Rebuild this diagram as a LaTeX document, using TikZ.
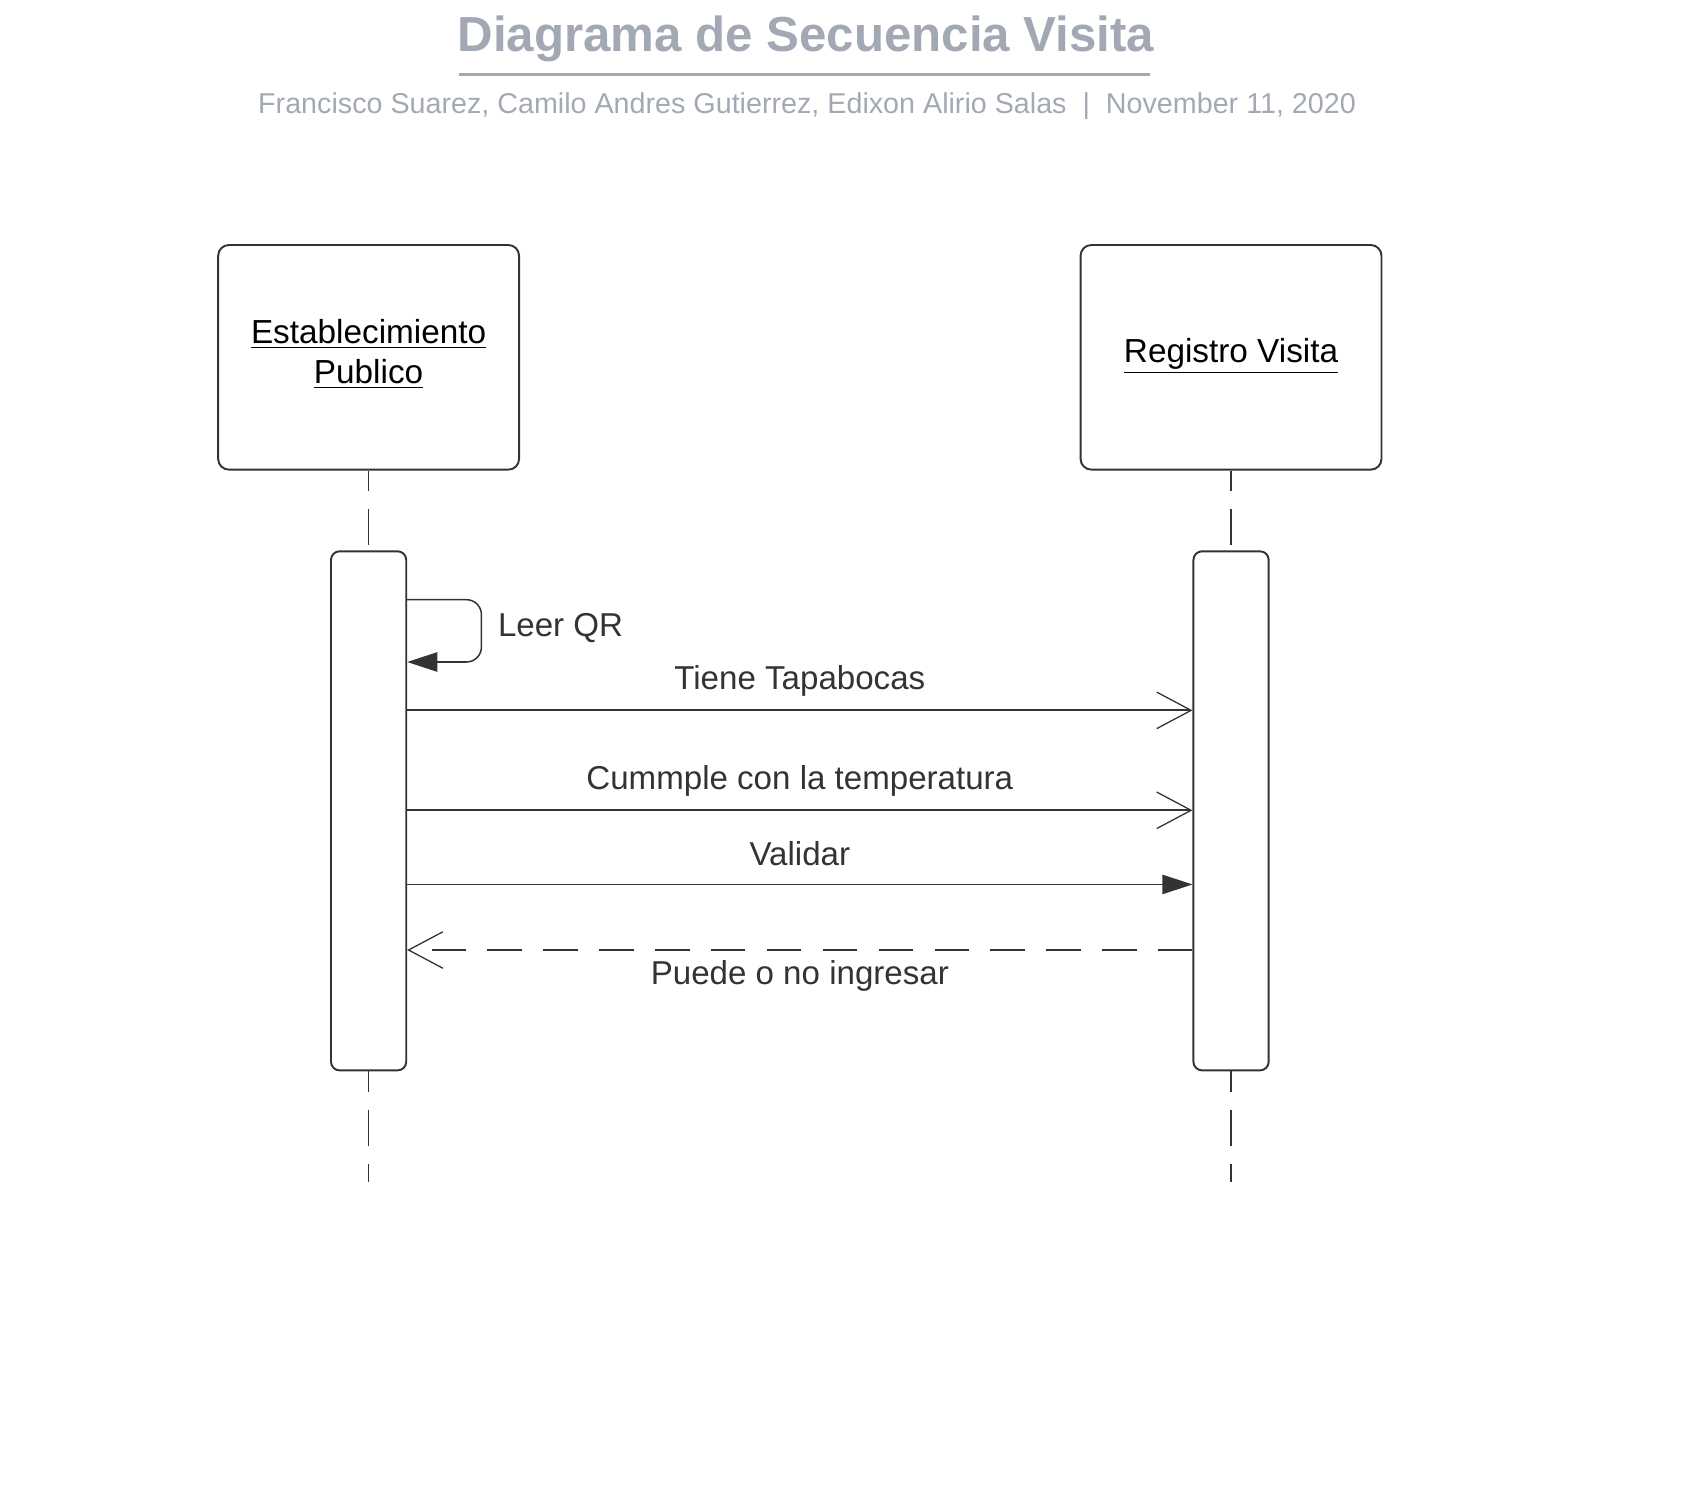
\documentclass[tikz,border=0pt]{standalone}
\usepackage{fontspec}
\setmainfont{Liberation Sans}
\usetikzlibrary{arrows.meta}
\definecolor{titlegrey}{HTML}{A3A9B4}
\definecolor{ink}{HTML}{333333}
\begin{document}
\begin{tikzpicture}[x=0.5pt,y=-0.5pt,
  headbox/.style={draw=ink,line width=0.9pt,rounded corners=5pt,minimum width=140pt,minimum height=104.5pt,inner sep=0pt},
  headtext/.style={text=black,font=\fontsize{15.5}{18.5}\selectfont,align=center,inner sep=0pt},
  actbox/.style={draw=ink,line width=0.9pt,rounded corners=4pt,minimum width=35pt,minimum height=241.5pt,inner sep=0pt,fill=white},
  lifeline/.style={draw=ink,line width=0.7pt,dash pattern=on 16.5pt off 8.5pt,dash phase=7pt},
  msg/.style={draw=ink,line width=0.9pt},
  msgthin/.style={draw=ink,line width=0.6pt},
  msglabel/.style={text=ink,font=\fontsize{15.4}{18}\selectfont,inner sep=0pt},
  openhead/.style={-{Straight Barb[length=16pt,width=17pt,line width=0.6pt]}},
  filledhead/.style={-{Triangle[length=14pt,width=9pt]}}
]
\useasboundingbox (0,0) rectangle (1567,1396);
% title
\node[text=titlegrey,font=\fontsize{22.9}{27}\selectfont\bfseries,inner sep=0pt] (title) at (750,36.5) {Diagrama de Secuencia Visita};
\coordinate (ulA) at (427,69);
\coordinate (ulB) at (1070,69);
\draw[titlegrey,line width=1.5pt] (ulA) -- (ulB);
\node[text=titlegrey,font=\fontsize{13.35}{16}\selectfont,inner sep=0pt] (subtitle) at (751,99) {Francisco Suarez, Camilo Andres Gutierrez, Edixon Alirio Salas \ | \ November 11, 2020};
% heads
\node[headbox] (ep) at (343,332.5) {};
\node[headbox] (rv) at (1145.5,332.5) {};
\node[headtext] (eptext) at (343,329.5) {\underline{Establecimiento}\\\underline{Publico}};
\node[headtext] (rvtext) at (1145.5,331.5) {\underline{Registro Visita}};
% activations
\node[actbox] (act1) at (343,754.5) {};
\node[actbox] (act2) at (1145.5,754.5) {};
% lifelines
\coordinate (ependB) at (343,1100);
\coordinate (rvendB) at (1145.5,1100);
\draw[lifeline] (ep.south) -- (act1.north);
\draw[lifeline] (rv.south) -- (act2.north);
\draw[lifeline] (act1.south) -- (ependB);
\draw[lifeline] (act2.south) -- (rvendB);
% y levels
\coordinate (yq1) at (0,558);
\coordinate (yq2) at (0,616);
\coordinate (y1) at (0,661);
\coordinate (y2) at (0,754);
\coordinate (y3) at (0,823);
\coordinate (y4) at (0,884);
\coordinate (loopR) at (448,0);
% self message
\draw[msgthin,line width=0.7pt,filledhead,rounded corners=7pt] (act1.east |- yq1) -- (loopR |- yq1) -- (loopR |- yq2) -- (act1.east |- yq2);
\node[msglabel,anchor=west] (lqr) at (463,584.5) {Leer QR};
% messages
\draw[msg,openhead] (act1.east |- y1) -- (act2.west |- y1) node[msglabel,midway,yshift=13.5pt] (m1) {Tiene Tapabocas};
\draw[msg,openhead] (act1.east |- y2) -- (act2.west |- y2) node[msglabel,midway,yshift=13.5pt] (m2) {Cummple con la temperatura};
\draw[msgthin,filledhead] (act1.east |- y3) -- (act2.west |- y3) node[msglabel,midway,yshift=14.5pt] (m3) {Validar};
\draw[msg,openhead,dash pattern=on 16pt off 10pt] (act2.west |- y4) -- (act1.east |- y4) node[msglabel,midway,yshift=-12pt] (m4) {Puede o no ingresar};
\end{tikzpicture}
\end{document}
